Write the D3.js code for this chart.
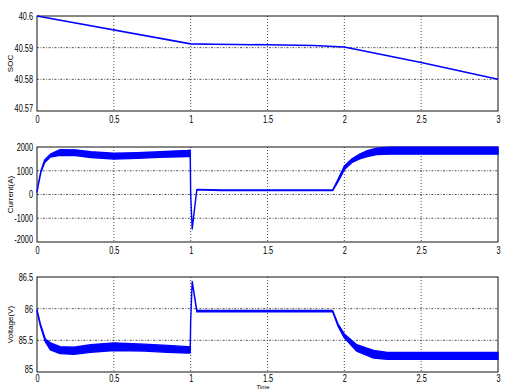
<!DOCTYPE html>
<html>
<head>
<meta charset="utf-8">
<script src="https://cdn.jsdelivr.net/npm/d3@7"></script>
<style>
  body { margin: 0; background: #fff; }
  svg { display: block; }
  .tick text { font-family: "Liberation Sans", Arial, sans-serif; font-size: 10.5px; fill: #000; }
  .ylab { font-family: "Liberation Sans", Arial, sans-serif; font-size: 8px; }
</style>
</head>
<body>
<svg></svg>
<script>
// ─── DATA ────────────────────────────────────────────────────────────────────

const xTicks = [0, 0.5, 1, 1.5, 2, 2.5, 3];

// state of charge, a single line
const socTime = [0, 1, 1.15, 1.5, 1.8, 2, 2.5, 3];
const socValue = [40.6, 40.5912, 40.5911, 40.5909, 40.5907, 40.5902, 40.5853, 40.58];
const socTicks = [40.57, 40.58, 40.59, 40.6];

// current: envelope of the ripple band (upper / lower)
const curTime = [0, 0.01, 0.026, 0.05, 0.087, 0.15, 0.25, 0.35, 0.5, 0.65, 0.8, 0.98, 0.997, 1.0, 1.01, 1.04, 1.2, 1.5, 1.924, 1.96, 2.0, 2.05, 2.1, 2.15, 2.21, 2.3, 2.5, 2.75, 3];
const curUpper = [100, 500, 1000, 1450, 1700, 1890, 1880, 1800, 1740, 1760, 1800, 1860, 1870, 0, -1450, 210, 190, 190, 190, 650, 1200, 1500, 1700, 1850, 1950, 1995, 1995, 1995, 1995];
const curLower = [100, 450, 950, 1350, 1580, 1650, 1640, 1560, 1490, 1520, 1570, 1600, 1600, 0, -1450, 200, 165, 165, 165, 550, 1050, 1350, 1500, 1600, 1680, 1700, 1700, 1700, 1700];
const curTicks = [-2000, -1000, 0, 1000, 2000];

// voltage: envelope of the ripple band (upper / lower)
const volTime = [0, 0.022, 0.054, 0.087, 0.15, 0.24, 0.35, 0.5, 0.7, 0.85, 0.98, 0.997, 1.0, 1.01, 1.04, 1.2, 1.5, 1.924, 1.96, 2.0, 2.08, 2.19, 2.28, 2.5, 2.75, 3];
const volUpper = [85.98, 85.76, 85.52, 85.46, 85.4, 85.39, 85.43, 85.46, 85.44, 85.42, 85.4, 85.4, 85.8, 86.43, 85.97, 85.97, 85.97, 85.97, 85.75, 85.6, 85.43, 85.34, 85.31, 85.31, 85.31, 85.31];
const volLower = [85.96, 85.73, 85.48, 85.35, 85.29, 85.28, 85.31, 85.34, 85.33, 85.31, 85.3, 85.3, 85.8, 86.43, 85.95, 85.95, 85.95, 85.95, 85.72, 85.54, 85.33, 85.22, 85.2, 85.2, 85.2, 85.2];
const volTicks = [85, 85.5, 86, 86.5];

// ─── LAYOUT ──────────────────────────────────────────────────────────────────

const width = 529,
  height = 390,
  left = 37,
  right = 498,
  panelH = 95;

const svg = d3.select("svg").attr("width", width).attr("height", height);

const x = d3.scaleLinear().domain([0, 3]).range([left, right]);
const blue = "#0000ff";

const panels = [
  { top: 16, domain: [40.57, 40.6], ticks: socTicks, label: "SOC", fmt: (d) => String(+d.toFixed(2)), pad: 5 },
  { top: 147, domain: [-2000, 2000], ticks: curTicks, label: "Current(A)", fmt: (d) => String(d), pad: 5 },
  { top: 277, domain: [85, 86.5], ticks: volTicks, label: "Voltage(V)", fmt: (d) => String(d), pad: 3 },
];

// squeeze tick labels to look like the narrow MATLAB font
function narrow(sel) {
  sel.selectAll(".tick text").each(function () {
    const w = this.getComputedTextLength();
    d3.select(this).attr("textLength", w * 0.7).attr("lengthAdjust", "spacingAndGlyphs");
  });
}

function drawPanel(p) {
  const y = d3.scaleLinear().domain(p.domain).range([p.top + panelH, p.top]);
  const g = svg.append("g");

  // dotted grid
  g.append("g")
    .selectAll("line")
    .data(xTicks.slice(1, -1))
    .join("line")
    .attr("x1", (d) => x(d))
    .attr("x2", (d) => x(d))
    .attr("y1", p.top)
    .attr("y2", p.top + panelH)
    .attr("stroke", "#222")
    .attr("stroke-width", 0.8)
    .attr("stroke-dasharray", "1,2");
  g.append("g")
    .selectAll("line")
    .data(p.ticks.slice(1, -1))
    .join("line")
    .attr("x1", left)
    .attr("x2", right)
    .attr("y1", (d) => y(d))
    .attr("y2", (d) => y(d))
    .attr("stroke", "#222")
    .attr("stroke-width", 0.8)
    .attr("stroke-dasharray", "2,1.5,0.8,1.5");

  // axes (labels only, frame drawn separately)
  g.append("g")
    .attr("transform", `translate(0,${p.top + panelH})`)
    .call(d3.axisBottom(x).tickValues(xTicks).tickSize(0).tickPadding(p.pad).tickFormat((d) => String(d)))
    .call((a) => a.select(".domain").remove())
    .call(narrow);
  g.append("g")
    .attr("transform", `translate(${left},0)`)
    .call(d3.axisLeft(y).tickValues(p.ticks).tickSize(0).tickPadding(4).tickFormat(p.fmt))
    .call((a) => a.select(".domain").remove())
    .call(narrow)
    // lowest label sits a touch higher so it clears the x "0"
    .call((a) => a.selectAll(".tick text").filter((d) => d === p.ticks[0]).attr("dy", "0"));

  g.append("rect")
    .attr("x", left)
    .attr("y", p.top)
    .attr("width", right - left)
    .attr("height", panelH)
    .attr("fill", "none")
    .attr("stroke", "#111")
    .attr("stroke-width", 1);

  g.append("text")
    .attr("class", "ylab")
    .attr("transform", `translate(13,${p.top + panelH / 2}) rotate(-90)`)
    .attr("text-anchor", "middle")
    .text(p.label);

  return { g, y };
}

const [pSoc, pCur, pVol] = panels.map(drawPanel);

// ─── SERIES ──────────────────────────────────────────────────────────────────

pSoc.g
  .append("path")
  .datum(socTime.map((t, i) => [t, socValue[i]]))
  .attr("fill", "none")
  .attr("stroke", blue)
  .attr("stroke-width", 1.6)
  .attr("d", d3.line().x((d) => x(d[0])).y((d) => pSoc.y(d[1])));

function band(panel, time, upper, lower) {
  const rows = time.map((t, i) => ({ t, hi: upper[i], lo: lower[i] }));
  panel.g
    .append("path")
    .datum(rows)
    .attr("fill", blue)
    .attr("stroke", blue)
    .attr("stroke-width", 1.4)
    .attr("stroke-linejoin", "round")
    .attr(
      "d",
      d3
        .area()
        .x((d) => x(d.t))
        .y0((d) => panel.y(d.lo))
        .y1((d) => panel.y(d.hi))
    );
}

band(pCur, curTime, curUpper, curLower);
band(pVol, volTime, volUpper, volLower);

// x label under the last panel, squeezed against the bottom edge
svg
  .append("text")
  .attr("x", 263)
  .attr("y", 389)
  .attr("text-anchor", "middle")
  .attr("font-family", "Liberation Sans, Arial, sans-serif")
  .attr("font-size", 6)
  .text("Time");
</script>
</body>
</html>
